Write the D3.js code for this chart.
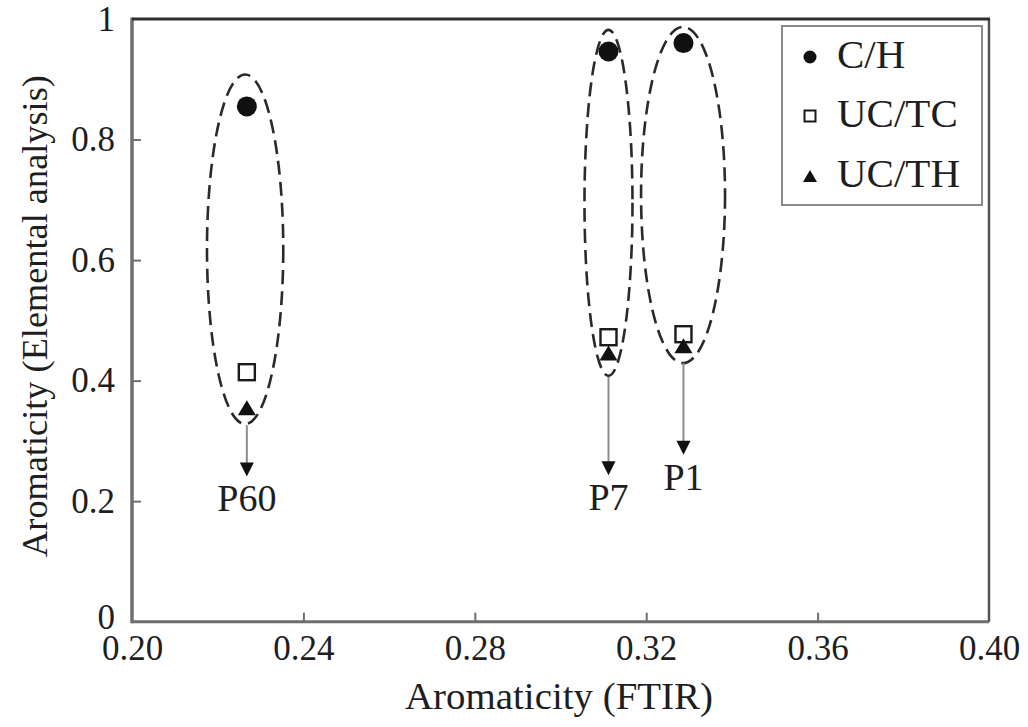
<!DOCTYPE html>
<html>
<head>
<meta charset="utf-8">
<script src="https://cdn.jsdelivr.net/npm/d3@7"></script>
<style>
  html, body { margin: 0; padding: 0; background: #fff; }
  svg { display: block; }
  text { font-family: "Liberation Serif", "DejaVu Serif", serif; fill: #1e1e1e; }
</style>
</head>
<body>
<svg id="chart" width="1028" height="727"></svg>
<script>
// Samples and their aromaticity values
const samples = ["P60", "P7", "P1"];
const ftir    = [0.2268, 0.3112, 0.3287];   // x: aromaticity from FTIR
const chRatio = [0.855, 0.946, 0.960];      // C/H
const ucTc    = [0.414, 0.472, 0.477];      // UC/TC
const ucTh    = [0.355, 0.446, 0.458];      // UC/TH

// Dashed ellipses grouping each sample (data units)
const ellCx = [0.2264, 0.3112, 0.3286];
const ellCy = [0.618, 0.695, 0.708];
const ellRx = [0.0089, 0.0056, 0.0098];
const ellRy = [0.290, 0.287, 0.279];

// Arrows pointing to each sample label (data units)
const arrowFrom = [0.326, 0.406, 0.429];
const arrowTo   = [0.241, 0.243, 0.277];

const xTicks = [0.20, 0.24, 0.28, 0.32, 0.36, 0.40];
const yTicks = [0, 0.2, 0.4, 0.6, 0.8, 1];
const seriesNames = ["C/H", "UC/TC", "UC/TH"];
const xTitle = "Aromaticity (FTIR)";
const yTitle = "Aromaticity (Elemental analysis)";

const svg = d3.select("#chart");
const plotL = 132, plotR = 989, plotT = 19, plotB = 621.7;

const x = d3.scaleLinear().domain([0.20, 0.40]).range([plotL, plotR]);
const y = d3.scaleLinear().domain([0, 1]).range([plotB, plotT]);

const axisGray = "#6e6e6e";
const tickFont = 35;

// Axes with inward ticks
const gx = svg.append("g").attr("transform", `translate(0,${plotB})`)
  .call(d3.axisBottom(x).tickValues(xTicks).tickSize(-9).tickPadding(10)
        .tickFormat(d3.format(".2f")));
gx.select(".domain").remove();
gx.selectAll(".tick line").attr("stroke", axisGray).attr("stroke-width", 2);
gx.selectAll(".tick text").attr("font-size", tickFont).attr("fill", "#1e1e1e")
  .attr("dy", null).attr("y", 38.5);
gx.selectAll(".tick").filter(d => d === 0.20 || d === 0.40).select("line").remove();

const gy = svg.append("g").attr("transform", `translate(${plotL},0)`)
  .call(d3.axisLeft(y).tickValues(yTicks).tickSize(-9).tickPadding(17)
        .tickFormat(d => (d === 0 || d === 1) ? String(d) : d.toFixed(1)));
gy.select(".domain").remove();
gy.selectAll(".tick line").attr("stroke", axisGray).attr("stroke-width", 2);
gy.selectAll(".tick text").attr("font-size", tickFont).attr("fill", "#1e1e1e");
gy.selectAll(".tick").filter(d => d === 0 || d === 1).select("line").remove();
gy.selectAll(".tick").filter(d => d === 0).select("text").attr("dy", "0.2em");

// Plot frame
svg.append("line").attr("x1", plotL).attr("x2", plotL).attr("y1", plotT - 1.5).attr("y2", plotB + 1.5)
  .attr("stroke", axisGray).attr("stroke-width", 3.5);
svg.append("line").attr("x1", plotL).attr("x2", plotR).attr("y1", plotB).attr("y2", plotB)
  .attr("stroke", axisGray).attr("stroke-width", 3);
svg.append("line").attr("x1", plotR).attr("x2", plotR).attr("y1", plotT).attr("y2", plotB)
  .attr("stroke", "#555").attr("stroke-width", 2.5);
svg.append("line").attr("x1", plotL).attr("x2", plotR + 1).attr("y1", plotT).attr("y2", plotT)
  .attr("stroke", "#2e2e2e").attr("stroke-width", 3);

// Scale a text's font so it spans the given width
function fitText(sel, target) {
  const w = sel.node().getComputedTextLength();
  const fs = parseFloat(sel.attr("font-size"));
  sel.attr("font-size", fs * target / w);
}
const xt = svg.append("text").attr("x", (405 + 713) / 2).attr("y", 709)
  .attr("text-anchor", "middle").attr("font-size", 34).text(xTitle);
fitText(xt, 308);
const yt = svg.append("text").attr("transform", `translate(47,${(75 + 557) / 2}) rotate(-90)`)
  .attr("text-anchor", "middle").attr("font-size", 34).text(yTitle);
fitText(yt, 482);

// Dashed ellipses
svg.append("g").selectAll("ellipse").data(samples).join("ellipse")
  .attr("cx", (d, i) => x(ellCx[i]))
  .attr("cy", (d, i) => y(ellCy[i]))
  .attr("rx", (d, i) => x(ellCx[i] + ellRx[i]) - x(ellCx[i]))
  .attr("ry", (d, i) => y(ellCy[i]) - y(ellCy[i] + ellRy[i]))
  .attr("fill", "none").attr("stroke", "#2a2a2a").attr("stroke-width", 2.6)
  .attr("stroke-dasharray", "14,7");

// Arrows and sample labels
const arrows = svg.append("g");
samples.forEach((s, i) => {
  const ax = x(ftir[i]);
  const y0 = y(arrowFrom[i]), y1 = y(arrowTo[i]);
  arrows.append("line").attr("x1", ax).attr("x2", ax).attr("y1", y0).attr("y2", y1 - 12)
    .attr("stroke", "#8c8c8c").attr("stroke-width", 2);
  arrows.append("path")
    .attr("d", `M${ax - 7},${y1 - 14} L${ax + 7},${y1 - 14} L${ax},${y1} Z`)
    .attr("fill", "#111");
  arrows.append("text").attr("x", ax).attr("y", y1 + 35)
    .attr("text-anchor", "middle").attr("font-size", 38).text(s);
});

// Markers
const triPath = (cx, cy, w, h) => `M${cx - w / 2},${cy + h / 2} L${cx + w / 2},${cy + h / 2} L${cx},${cy - h / 2} Z`;

const pts = svg.append("g");
pts.selectAll("rect").data(samples).join("rect")
  .attr("x", (d, i) => x(ftir[i]) - 8).attr("y", (d, i) => y(ucTc[i]) - 8)
  .attr("width", 16).attr("height", 16)
  .attr("fill", "#fff").attr("stroke", "#1a1a1a").attr("stroke-width", 2.4);
pts.selectAll("path.tri").data(samples).join("path").attr("class", "tri")
  .attr("d", (d, i) => triPath(x(ftir[i]), y(ucTh[i]), 18, 15))
  .attr("fill", "#111");
pts.selectAll("circle").data(samples).join("circle")
  .attr("cx", (d, i) => x(ftir[i])).attr("cy", (d, i) => y(chRatio[i]))
  .attr("r", 10).attr("fill", "#111");

// Legend
const lg = svg.append("g");
lg.append("rect").attr("x", 782).attr("y", 26).attr("width", 200).attr("height", 179)
  .attr("fill", "#fff").attr("stroke", "#8a8a8a").attr("stroke-width", 2);
const rowY = [57, 116, 176];
lg.append("circle").attr("cx", 810).attr("cy", rowY[0]).attr("r", 6.5).attr("fill", "#111");
lg.append("rect").attr("x", 804.5).attr("y", rowY[1] - 5.5).attr("width", 11).attr("height", 11)
  .attr("fill", "#fff").attr("stroke", "#1a1a1a").attr("stroke-width", 2);
lg.append("path").attr("d", triPath(810, rowY[2], 14, 12)).attr("fill", "#111");
const lgText = lg.selectAll("text").data(seriesNames).join("text")
  .attr("x", 837).attr("y", (d, i) => rowY[i] + 11)
  .attr("font-size", 36).text(d => d);
// size legend labels so the widest spans the box
const lgW = lgText.filter(d => d === "UC/TH");
const lgFs = 36 * 123 / lgW.node().getComputedTextLength();
lgText.attr("font-size", lgFs);
</script>
</body>
</html>
